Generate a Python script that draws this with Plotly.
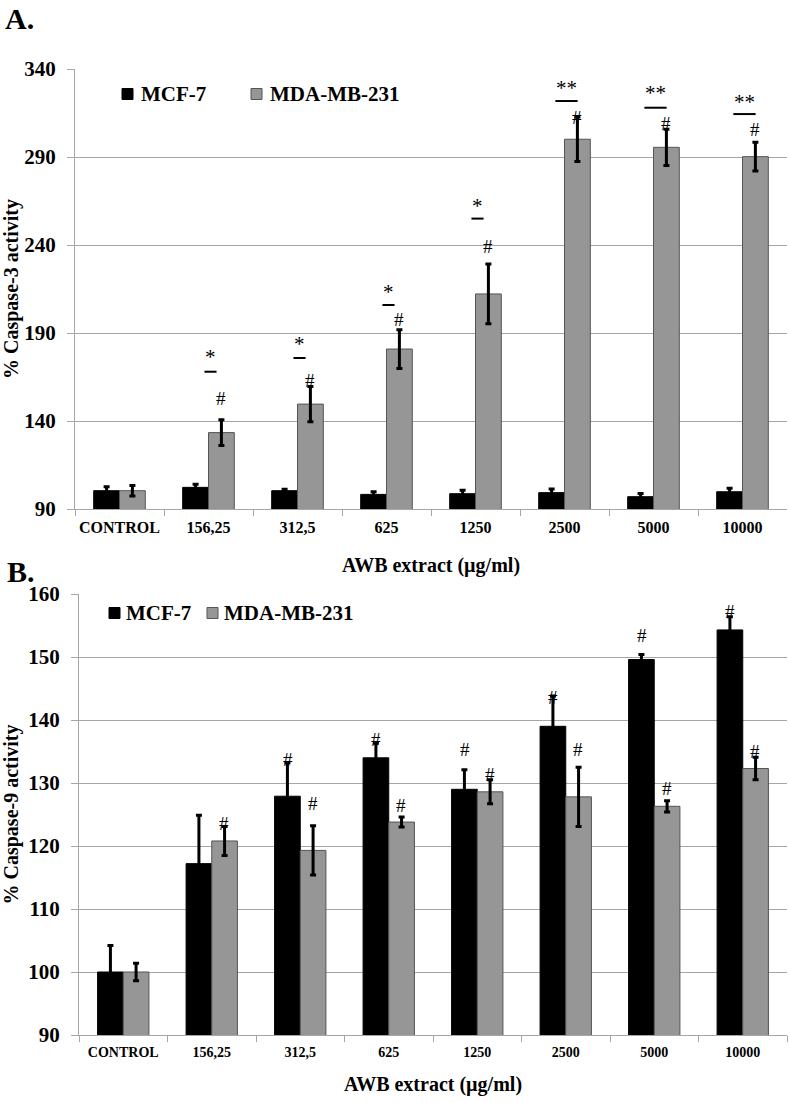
import plotly.graph_objects as go

categories = ["CONTROL", "156,25", "312,5", "625", "1250", "2500", "5000", "10000"]
series_names = ["MCF-7", "MDA-MB-231"]

# Panel A: % Caspase-3 activity
casp3_mcf7 = [100.4, 102.3, 100.4, 98.3, 98.7, 99.3, 97.0, 99.8]
casp3_mcf7_err = [2.3, 1.7, 0.8, 1.5, 2.0, 2.0, 1.8, 2.0]
casp3_mda = [100.4, 133.4, 149.6, 180.9, 212.2, 300.1, 295.5, 290.2]
casp3_mda_err = [3.0, 7.3, 10.0, 11.0, 17.0, 12.6, 10.3, 8.2]

# Panel B: % Caspase-9 activity
casp9_mcf7 = [100.0, 117.2, 127.9, 134.0, 129.0, 139.0, 149.6, 154.3]
casp9_mcf7_err = [4.2, 7.7, 5.3, 2.3, 3.1, 4.8, 0.8, 2.1]
casp9_mda = [100.0, 120.8, 119.3, 123.8, 128.6, 127.8, 126.3, 132.3]
casp9_mda_err = [1.4, 2.3, 3.9, 0.8, 1.9, 4.7, 0.9, 1.8]

# significance marks (A): star text, star level, bar level, hash level
casp3_star_text = ["", "*", "*", "*", "*", "**", "**", "**"]
casp3_star_y = [None, 176.5, 183.5, 213.5, 262.0, 329.0, 326.2, 321.4]
casp3_line_y = [None, 168.0, 175.8, 205.9, 255.0, 321.8, 318.0, 314.4]
casp3_hash_y = [None, 153.0, 163.0, 197.4, 239.0, 312.6, 309.0, 305.7]
# significance marks (B)
casp9_mcf7_hash_y = [None, None, 133.7, 136.9, 135.3, 143.5, 153.4, 157.2]
casp9_mda_hash_y = [None, 123.5, 126.7, 126.5, 131.4, 135.3, 129.2, 135.0]

W, H = 790, 1103
FONT = "Liberation Serif"
BLACK = "#000000"
GRAY = "#969696"
GRID = "#a6a6a6"

def py(y):
    return 1 - y / H

fig = go.Figure()

err_style = dict(type="data", color="black", thickness=3, width=3)
fills = [BLACK, GRAY]
edges = ["#000000", "#555555"]

panels = [
    ("x", "y", [casp3_mcf7, casp3_mda], [casp3_mcf7_err, casp3_mda_err]),
    ("x2", "y2", [casp9_mcf7, casp9_mda], [casp9_mcf7_err, casp9_mda_err]),
]
for xa, ya, vals, errs in panels:
    for k in range(2):
        fig.add_trace(go.Bar(x=categories, y=vals[k], name=series_names[k],
                             marker=dict(color=fills[k], line=dict(color=edges[k], width=1)),
                             error_y=dict(array=errs[k], **err_style), xaxis=xa, yaxis=ya,
                             offsetgroup=str(k), showlegend=False))

annotations = []
shapes = []
slot_a = 89.0
for i, t in enumerate(casp3_star_text):
    if not t:
        continue
    annotations.append(dict(x=i, y=casp3_star_y[i], xref="x", yref="y", text=t, showarrow=False,
                            font=dict(family=FONT, size=21, color="black"), xshift=2))
    half = (0.125 if len(t) == 2 else 0.068)
    shapes.append(dict(type="line", xref="x", yref="y", x0=i + 2 / slot_a - half, x1=i + 2 / slot_a + half,
                       y0=casp3_line_y[i], y1=casp3_line_y[i], line=dict(color="black", width=2)))
    annotations.append(dict(x=i + 0.146, y=casp3_hash_y[i], xref="x", yref="y", text="#", showarrow=False,
                            font=dict(family=FONT, size=19, color="black")))

for i in range(len(categories)):
    if casp9_mcf7_hash_y[i] is not None:
        annotations.append(dict(x=i - 0.141, y=casp9_mcf7_hash_y[i], xref="x2", yref="y2", text="#", showarrow=False,
                                font=dict(family=FONT, size=19, color="black")))
    if casp9_mda_hash_y[i] is not None:
        annotations.append(dict(x=i + 0.141, y=casp9_mda_hash_y[i], xref="x2", yref="y2", text="#", showarrow=False,
                                font=dict(family=FONT, size=19, color="black")))

annotations.append(dict(x=3 / W, y=py(18), xref="paper", yref="paper", xanchor="left", yanchor="middle",
                        text="A.", showarrow=False, font=dict(family=FONT, size=30, color="black", weight="bold")))
annotations.append(dict(x=5 / W, y=py(571), xref="paper", yref="paper", xanchor="left", yanchor="middle",
                        text="B.", showarrow=False, font=dict(family=FONT, size=30, color="black", weight="bold")))

# manual legends (square swatch + label) for each panel
legend_rows = [
    (py(94), [122, 251], [139, 268]),
    (py(613), [109, 207], [124, 222]),
]
for yc, sq_x, tx_x in legend_rows:
    for k in range(2):
        shapes.append(dict(type="rect", xref="paper", yref="paper",
                           x0=sq_x[k] / W, x1=(sq_x[k] + 11) / W, y0=yc - 5.5 / H, y1=yc + 5.5 / H,
                           fillcolor=fills[k], line=dict(color=edges[k], width=1)))
        annotations.append(dict(x=tx_x[k] / W, y=yc, xref="paper", yref="paper", xanchor="left", yanchor="middle",
                                text=series_names[k], showarrow=False,
                                font=dict(family=FONT, size=21, color="black", weight="bold")))

def xaxis(domain, size, anchor, standoff):
    return dict(domain=domain, anchor=anchor, type="category", range=[-0.5, 7.5], showline=True, linecolor=GRID,
                linewidth=1, ticks="outside", tickson="boundaries", ticklen=6, tickcolor=GRID, showgrid=False,
                tickangle=0, automargin=False,
                tickfont=dict(family=FONT, size=size, color="black", weight="bold"), ticklabelstandoff=4,
                title=dict(text="AWB extract (µg/ml)", font=dict(family=FONT, size=20, color="black", weight="bold"),
                           standoff=standoff))

def yaxis(domain, rng, dtick, anchor, title):
    return dict(domain=domain, range=rng, dtick=dtick, tick0=rng[0], anchor=anchor, showline=True, linecolor=GRID,
                linewidth=1, ticks="outside", ticklen=7, tickcolor=GRID, showgrid=True, gridcolor=GRID, gridwidth=1,
                zeroline=False, automargin=False,
                tickfont=dict(family=FONT, size=21, color="black", weight="bold"),
                ticklabelstandoff=7,
                title=dict(text=title, font=dict(family=FONT, size=20, color="black", weight="bold"), standoff=5))

fig.update_layout(
    width=W, height=H, margin=dict(l=0, r=0, t=0, b=0, autoexpand=False), paper_bgcolor="white",
    plot_bgcolor="white", barmode="group", bargap=0.42, bargroupgap=0, showlegend=False,
    xaxis=xaxis([75 / W, 787 / W], 16, "y", 22),
    yaxis=yaxis([py(509), py(69)], [90, 340], 50, "x", "% Caspase-3 activity"),
    xaxis2=xaxis([79 / W, 787 / W], 14, "y2", 18),
    yaxis2=yaxis([py(1035), py(594)], [90, 160], 10, "x2", "% Caspase-9 activity"),
    annotations=annotations, shapes=shapes,
)

fig.write_html("out.html", config={"displayModeBar": False},
               post_script="document.body.style.margin='0px';")
